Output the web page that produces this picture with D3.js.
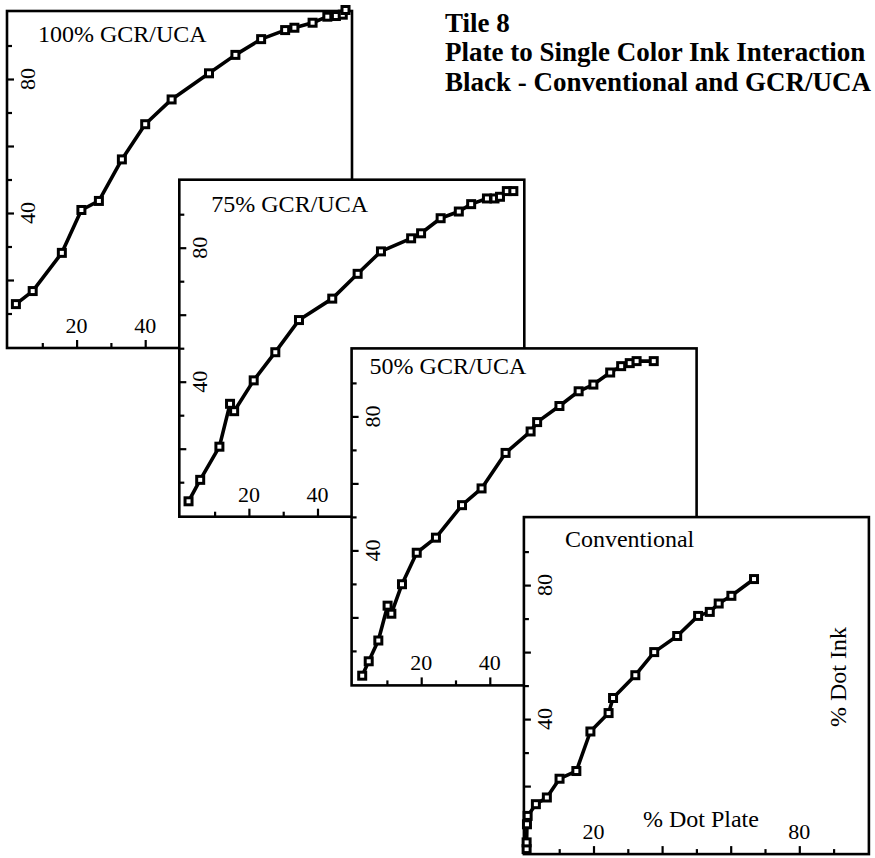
<!DOCTYPE html>
<html>
<head>
<meta charset="utf-8">
<script src="https://cdn.jsdelivr.net/npm/d3@7/dist/d3.min.js"></script>
<style>
  html, body { margin: 0; padding: 0; background: #fff; }
  svg { display: block; }
  text { font-family: "Liberation Serif", "Times New Roman", serif; fill: #000; }
</style>
</head>
<body>
<svg id="chart" width="875" height="858"></svg>
<script>
// ---------- DATA ----------
const panelNames = ["100% GCR/UCA", "75% GCR/UCA", "50% GCR/UCA", "Conventional"];
const titleLines = ["Tile 8", "Plate to Single Color Ink Interaction", "Black - Conventional and GCR/UCA"];
const xAxisTitle = "% Dot Plate";
const yAxisTitle = "% Dot Ink";

// % dot plate (x) and % dot ink (y) for each panel
const plate100 = [2.3, 7.2, 15.7, 21.4, 26.5, 33.2, 40.0, 47.7, 58.6, 66.3, 73.8, 80.8, 83.5, 88.8, 93.1, 95.6, 97.6, 98.4];
const ink100   = [12.8, 16.7, 28.1, 40.9, 43.6, 56.0, 66.5, 73.9, 81.7, 87.2, 91.9, 94.6, 95.3, 96.8, 98.6, 98.8, 99.2, 100.6];

const plate75 = [2.4, 5.8, 11.4, 14.5, 15.7, 21.4, 27.7, 34.6, 44.3, 51.7, 58.5, 67.3, 70.2, 75.9, 81.2, 84.8, 89.4, 91.6, 93.2, 95.2, 97.1];
const ink75   = [4.3, 10.7, 20.6, 33.4, 31.2, 40.4, 48.8, 58.4, 64.8, 72.2, 78.9, 82.8, 84.3, 88.8, 90.8, 93.0, 94.7, 94.7, 95.2, 96.9, 96.9];

const plate50 = [2.8, 4.7, 7.5, 10.2, 11.3, 14.4, 18.7, 24.3, 31.9, 37.6, 44.6, 51.9, 53.8, 60.3, 65.9, 70.2, 75.1, 78.3, 80.8, 82.8, 87.8];
const ink50   = [2.6, 6.9, 13.1, 23.5, 21.1, 29.9, 39.3, 43.8, 53.5, 58.5, 69.1, 75.5, 78.3, 83.1, 87.5, 89.5, 93.1, 95.0, 95.9, 96.5, 96.5];

const plateConv = [0.5, 0.5, 0.6, 0.8, 3.2, 6.4, 10.1, 15.0, 19.1, 24.4, 25.7, 32.2, 37.7, 44.4, 50.5, 53.9, 56.5, 60.2, 66.8];
const inkConv   = [1.2, 3.2, 8.6, 11.1, 14.6, 16.6, 22.2, 24.5, 36.3, 41.8, 46.3, 53.1, 60.0, 64.8, 70.8, 72.0, 74.5, 76.8, 81.8];

const platePanels = [plate100, plate75, plate50, plateConv];
const inkPanels   = [ink100, ink75, ink50, inkConv];

const minorTicks = [10, 30, 50, 70, 90];
const majorTicks = [20, 40, 60, 80];
const xTickLabels = [[20, 40], [20, 40], [20, 40], [20, 80]];
const yTickLabels = [40, 80];

// ---------- LAYOUT ----------
const W = 345, H = 337;
const stepX = 172.3, stepY = 168.7;
const originX = 7, originY = 11;
const nameOffsets = [[31, 31], [32, 32], [18, 26], [41, 30]];

const svg = d3.select("#chart");

// Title
const tg = svg.append("g");
titleLines.forEach((t, i) => {
  tg.append("text")
    .attr("x", 445)
    .attr("y", [31.5, 61, 90.5][i])
    .attr("font-size", 27)
    .attr("font-weight", "bold")
    .text(t);
});

panelNames.forEach((name, i) => {
  const x0 = originX + stepX * i;
  const y0 = originY + stepY * i;
  const g = svg.append("g").attr("transform", `translate(${x0},${y0})`);

  const x = d3.scaleLinear().domain([0, 100]).range([1, W - 1]);
  const y = d3.scaleLinear().domain([0, 100]).range([H - 1, 1]);

  // frame (white fill hides panels underneath)
  g.append("rect")
    .attr("x", 0).attr("y", 0).attr("width", W).attr("height", H)
    .attr("fill", "#fff").attr("stroke", "#000").attr("stroke-width", 2.6);

  // ticks (inward)
  const axMinorX = d3.axisBottom(x).tickValues(minorTicks).tickSize(-5).tickFormat("");
  const axMajorX = d3.axisBottom(x).tickValues(majorTicks).tickSize(-8).tickFormat("");
  const axMinorY = d3.axisLeft(y).tickValues(minorTicks).tickSize(-5).tickFormat("");
  const axMajorY = d3.axisLeft(y).tickValues(majorTicks).tickSize(-7).tickFormat("");
  [axMinorX, axMajorX].forEach(ax => {
    const a = g.append("g").attr("transform", `translate(0,${H})`).call(ax);
    a.select(".domain").remove();
    a.selectAll("line").attr("stroke", "#000").attr("stroke-width", 2.2);
  });
  [axMinorY, axMajorY].forEach(ax => {
    const a = g.append("g").call(ax);
    a.select(".domain").remove();
    a.selectAll("line").attr("stroke", "#000").attr("stroke-width", 2.2);
  });

  // x tick labels
  g.selectAll("text.xl").data(xTickLabels[i]).enter().append("text")
    .attr("class", "xl")
    .attr("x", d => x(d))
    .attr("y", H - 15)
    .attr("text-anchor", "middle")
    .attr("font-size", 22)
    .text(d => d);

  // y tick labels (rotated)
  g.selectAll("text.yl").data(yTickLabels).enter().append("text")
    .attr("class", "yl")
    .attr("transform", d => `translate(28,${y(d)}) rotate(-90)`)
    .attr("text-anchor", "middle")
    .attr("font-size", 22)
    .text(d => d);

  // panel name
  g.append("text")
    .attr("x", nameOffsets[i][0]).attr("y", nameOffsets[i][1])
    .attr("font-size", 24)
    .text(name);

  // data
  const pts = platePanels[i].map((p, k) => [p, inkPanels[i][k]]);
  const line = d3.line().x(d => x(d[0])).y(d => y(d[1]));
  g.append("path")
    .datum(pts)
    .attr("d", line)
    .attr("fill", "none")
    .attr("stroke", "#000")
    .attr("stroke-width", 3.6)
    .attr("stroke-linejoin", "round");

  g.selectAll("rect.m").data(pts).enter().append("rect")
    .attr("class", "m")
    .attr("x", d => x(d[0]) - 3.5)
    .attr("y", d => y(d[1]) - 3.5)
    .attr("width", 7).attr("height", 7)
    .attr("fill", "#fff")
    .attr("stroke", "#000")
    .attr("stroke-width", 3);

  if (i === 3) {
    g.append("text")
      .attr("x", 119).attr("y", 310)
      .attr("font-size", 24)
      .text(xAxisTitle);
    g.append("text")
      .attr("transform", `translate(322,${160}) rotate(-90)`)
      .attr("text-anchor", "middle")
      .attr("font-size", 24)
      .text(yAxisTitle);
  }
});
</script>
</body>
</html>
